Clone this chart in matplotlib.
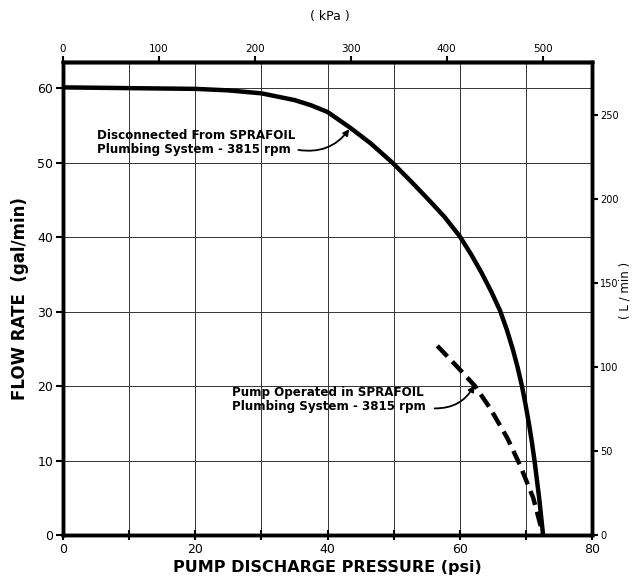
import matplotlib.pyplot as plt

# curve readings (psi, gal/min)
psi_free = [0, 10, 20, 25, 30, 35, 37.5, 40, 43.4, 46.5, 49.8, 52.6, 55.3, 57.7,
            60, 61.7, 63.3, 64.8, 66.1, 67.1, 68.0, 68.75, 69.4, 69.95, 70.45, 70.9,
            71.3, 72.0, 72.6]
gpm_free = [60.1, 60, 59.9, 59.7, 59.3, 58.4, 57.7, 56.8, 54.7, 52.6, 50, 47.5, 45, 42.7,
            40.1, 37.7, 35.2, 32.6, 30.1, 27.6, 25, 22.5, 20, 17.5, 15, 12.5,
            10, 5, 0]

psi_sys = [56.6, 59.6, 62.3, 64.6, 67.2, 69.1, 71.1, 72.6]
gpm_sys = [25.4, 22.6, 20.0, 17.0, 13.0, 9.4, 5.0, 0]

x_ticks = [0, 10, 20, 30, 40, 50, 60, 70, 80]
x_labels = ['0', '', '20', '', '40', '', '60', '', '80']
y_ticks = [0, 10, 20, 30, 40, 50, 60]
kpa_ticks = [0, 100, 200, 300, 400, 500]
lpm_ticks = [0, 50, 100, 150, 200, 250]

fig = plt.figure(figsize=(6.41, 5.80), dpi=100)
ax = fig.add_axes([0.0983, 0.0776, 0.8253, 0.8154])

ax.plot(psi_free, gpm_free, color='black', linewidth=3.2, solid_joinstyle='round')
ax.plot(psi_sys, gpm_sys, color='black', linewidth=3.2, dashes=(3.3, 1.6))

ax.set_xlim(0, 80)
ax.set_ylim(0, 63.5)
ax.set_xticks(x_ticks)
ax.set_xticklabels(x_labels, fontsize=9)
ax.set_yticks(y_ticks)
ax.set_yticklabels([str(v) for v in y_ticks], fontsize=9)
ax.grid(True, color='#333333', linewidth=0.7)
ax.tick_params(axis='x', direction='inout', length=7, width=1.5, pad=2)
ax.tick_params(axis='y', direction='out', length=5, width=1.5, pad=2)
for s in ax.spines.values():
    s.set_linewidth(2.5)

# top axis in kPa
top = ax.secondary_xaxis('top', functions=(lambda p: p * 6.895, lambda k: k / 6.895))
top.set_xticks(kpa_ticks)
top.tick_params(direction='out', length=4, width=1.5, labelsize=7.5, pad=2)
top.spines['top'].set_linewidth(2.5)
fig.text(0.515, 0.982, '( kPa )', ha='center', va='top', fontsize=9)

# right axis in L/min
right = ax.twinx()
right.set_ylim(0, 281.5)
right.set_yticks(lpm_ticks)
right.tick_params(direction='out', length=4, width=1.5, labelsize=7, pad=2)
for s in right.spines.values():
    s.set_linewidth(2.5)
fig.text(0.975, 0.5, '( L / min )', ha='center', va='center', rotation=90, fontsize=8.5)

ax.set_xlabel('PUMP DISCHARGE PRESSURE (psi)', fontsize=11.5, fontweight='bold', labelpad=3)
ax.set_ylabel('FLOW RATE  (gal/min)', fontsize=12, fontweight='bold', labelpad=6)

# callouts
ax.text(5.1, 52.7, 'Disconnected From SPRAFOIL\nPlumbing System - 3815 rpm',
        fontsize=8.6, fontweight='bold', va='center', ha='left', linespacing=1.1)
ax.annotate('', xy=(43.3, 54.5), xytext=(35.6, 51.7),
            arrowprops=dict(arrowstyle='-|>', color='black', lw=1.3, mutation_scale=9,
                            connectionstyle='arc3,rad=0.3', shrinkA=0, shrinkB=0))
ax.text(25.6, 18.2, 'Pump Operated in SPRAFOIL\nPlumbing System - 3815 rpm',
        fontsize=8.6, fontweight='bold', va='center', ha='left', linespacing=1.1)
ax.annotate('', xy=(62.2, 20.1), xytext=(56.2, 17.0),
            arrowprops=dict(arrowstyle='-|>', color='black', lw=1.3, mutation_scale=9,
                            connectionstyle='arc3,rad=0.3', shrinkA=0, shrinkB=0))

fig.savefig('out.png', dpi=100)
